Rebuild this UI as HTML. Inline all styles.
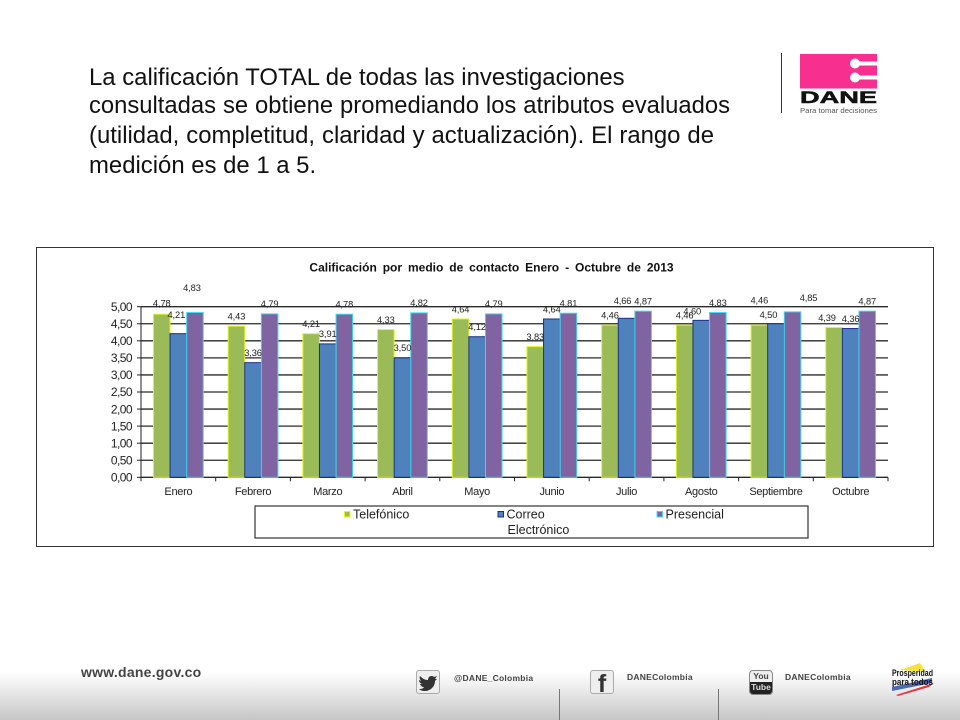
<!DOCTYPE html>
<html lang="es">
<head>
<meta charset="utf-8">
<title>Calificación por medio de contacto</title>
<style>
html,body{margin:0;padding:0;background:#fff}
#slide{position:relative;width:960px;height:720px;overflow:hidden;background:#fff;font-family:"Liberation Sans",Arial,sans-serif}
.line{position:absolute;left:89px;font-size:23.9px;line-height:28px;color:#111;white-space:nowrap}
.just{white-space:normal;text-align:justify;text-align-last:justify}
#footer-bg{position:absolute;left:0;top:672px;width:960px;height:48px;background:linear-gradient(#fff,#e9e9e9 40%,#c6c6c6)}
.abs{position:absolute}
.soc{position:absolute;font-size:8.5px;font-weight:bold;color:#444;white-space:nowrap;letter-spacing:.25px}
.ico{position:absolute;width:22px;height:22px;border:1px solid #aaa;border-radius:3px;background:#eee}
</style>
</head>
<body>
<div id="slide">
  <div id="footer-bg"></div>

  <div class="line" style="top:64px">La calificación TOTAL de todas las investigaciones</div>
  <div class="line just" style="top:92px;width:641px;font-size:23.8px">consultadas se obtiene promediando los atributos evaluados</div>
  <div class="line just" style="top:122px;width:625px">(utilidad, completitud, claridad y actualización). El rango de</div>
  <div class="line" style="top:152px">medición es de 1 a 5.</div>

  <div class="abs" style="left:781px;top:53px;width:1px;height:60px;background:#333"></div>
  <svg class="abs" style="left:798px;top:52px" width="82" height="64" viewBox="0 0 82 64">
    <rect x="2" y="2" width="77" height="34.500" fill="#f7308f"/>
    <rect x="57" y="9.500" width="22" height="4" fill="#fff"/>
    <rect x="57" y="23.500" width="22" height="4" fill="#fff"/>
    <circle cx="57" cy="11.500" r="5" fill="#fff"/>
    <circle cx="57" cy="25.500" r="5" fill="#fff"/>
    <text x="40.500" y="51" text-anchor="middle" font-family="Liberation Sans" font-weight="bold" font-size="17" textLength="77" lengthAdjust="spacingAndGlyphs" fill="#111" stroke="#111" stroke-width=".5">DANE</text>
    <text x="2" y="61" font-family="Liberation Sans" font-size="7.400" fill="#555" textLength="77" lengthAdjust="spacingAndGlyphs">Para tomar decisiones</text>
  </svg>

  <div class="abs" style="left:36px;top:247px;width:896px;height:298px;border:1px solid #333;box-sizing:content-box"></div>
  <svg id="chart" class="abs" style="left:0;top:0" width="960" height="720"></svg>

  <div class="abs" style="left:81px;top:664px;font-size:14px;font-weight:bold;color:#444;letter-spacing:.25px">www.dane.gov.co</div>

  <div class="ico" style="left:416px;top:670px">
    <svg width="22" height="22" viewBox="0 0 22 22"><path d="M3 5c3 3 5 4 8 4 0-4 4-5 6-3l3-1-2 3 2 0-2 2c0 6-5 10-10 10-3 0-5-1-6-2 2 0 4 0 5-2-2 0-3-1-4-3h2c-2-1-3-2-3-4l2 1C3 8 2 7 3 5z" fill="#333"/></svg>
  </div>
  <div class="soc" style="left:454px;top:673px">@DANE_Colombia</div>

  <div class="ico" style="left:590px;top:670px;font-size:25px;font-weight:bold;line-height:27px;text-align:center;color:#333;overflow:hidden">f</div>
  <div class="soc" style="left:627px;top:672px">DANEColombia</div>

  <div class="abs" style="left:749px;top:670px;width:22px;height:23px;border-radius:4px;overflow:hidden;border:1px solid #888;background:#eee;text-align:center;font-weight:bold;font-size:8.500px;line-height:11px"><div style="color:#444;height:11px">You</div><div style="background:#222;color:#ddd;height:12px">Tube</div></div>
  <div class="soc" style="left:785px;top:672px">DANEColombia</div>

  <svg class="abs" style="left:888px;top:660px" width="50" height="38" viewBox="0 0 50 38">
    <path d="M12 10 32 3l6 9z" fill="#f5e23a"/>
    <path d="M4 27 44 18v5L4 31z" fill="#4a6ab8"/>
    <path d="M8 35 46 23l-5 4-31 9z" fill="#e8343c"/>
    <text x="4" y="16" font-family="Liberation Sans" font-weight="bold" font-size="9" fill="#111" textLength="41" lengthAdjust="spacingAndGlyphs">Prosperidad</text>
    <text x="4" y="25" font-family="Liberation Sans" font-weight="bold" font-size="9" fill="#111" textLength="41" lengthAdjust="spacingAndGlyphs">para todos</text>
  </svg>

  <div class="abs" style="left:559px;top:689px;width:1px;height:31px;background:#777"></div>
  <div class="abs" style="left:718px;top:689px;width:1px;height:31px;background:#777"></div>
</div>

<script>
const categories = ['Enero','Febrero','Marzo','Abril','Mayo','Junio','Julio','Agosto','Septiembre','Octubre'];
const telefonico = [4.78,4.43,4.21,4.33,4.64,3.83,4.46,4.46,4.46,4.39];
const correo = [4.21,3.36,3.91,3.50,4.12,4.64,4.66,4.60,4.50,4.36];
const presencial = [4.83,4.79,4.78,4.82,4.79,4.81,4.87,4.83,4.85,4.87];
const yTicks = [0,0.5,1,1.5,2,2.5,3,3.5,4,4.5,5];

const svg = document.getElementById('chart');
const NS = 'http://www.w3.org/2000/svg';
const plot = {left:141, right:888, top:306.7, bottom:477.3};
const yMax = 5;
const y = v => plot.bottom - (v / yMax) * (plot.bottom - plot.top);
const bandW = (plot.right - plot.left) / categories.length;
const band = i => plot.left + i * bandW;
const barW = bandW / 4.5;
const barX = (i, s) => band(i) + barW * 0.75 + s * barW;
const comma = v => v.toFixed(2).replace('.', ',');

const seriesList = [
  {key:'telefonico', name:'Telefónico', values:telefonico, fill:'#9bbb59', edge:'#e6f51a', legendX:344.5},
  {key:'correo', name:'Correo', values:correo, fill:'#4f81bd', edge:'#1c2f8a', legendX:498},
  {key:'presencial', name:'Presencial', values:presencial, fill:'#8064a2', edge:'#3fdcf0', legendX:657}
];
/* manual label-placement exceptions from the source chart (series:category -> extra dx, dy) */
const labelNudge = {'0:0':[0,-1],'1:0':[-2,-9],'2:0':[-3,-15],'1:6':[-4,-7.5],'1:7':[-9,1],'0:8':[0,-15],'1:8':[-7.5,1],'2:8':[16,-4],'0:9':[-7,0]};

function add(tag, attrs, text) {
  const el = document.createElementNS(NS, tag);
  for (const k in attrs) el.setAttribute(k, attrs[k]);
  if (text !== undefined) el.textContent = text;
  svg.appendChild(el);
  return el;
}
const FONT = '"Liberation Sans", Arial, sans-serif';

const title = add('text', {x:491.5, y:271.5, 'text-anchor':'middle', 'font-family':FONT, 'font-weight':'bold', 'font-size':12, fill:'#111', 'word-spacing':'2.6px'}, 'Calificación por medio de contacto Enero - Octubre de 2013');



yTicks.forEach(t => {
  const gridline = add('line', {x1:plot.left, x2:plot.right, y1:y(t), y2:y(t), stroke:'#2a2a2a', 'stroke-width':1.3});
  
  
  const tick = add('line', {x1:plot.left - 4, x2:plot.left, y1:y(t), y2:y(t), stroke:'#222', 'stroke-width':1});
  
  
  const label = add('text', {x:132, y:y(t) + 4.2, 'text-anchor':'end', 'font-family':FONT, 'font-size':12, 'letter-spacing':'-0.55', fill:'#222'}, comma(t));
  
  
});

const yAxis = add('line', {x1:plot.left, x2:plot.left, y1:plot.top, y2:plot.bottom, stroke:'#222', 'stroke-width':1});



for (let i = 0; i <= categories.length; i++) {
  const tick = add('line', {x1:band(i), x2:band(i), y1:plot.bottom, y2:plot.bottom + 4, stroke:'#222', 'stroke-width':1});
  
  
}

categories.forEach((c, i) => {
  const label = add('text', {x:band(i) + bandW / 2, y:495, 'text-anchor':'middle', 'font-family':FONT, 'font-size':11, 'letter-spacing':'-0.3', fill:'#222'}, c);
  
  
});

seriesList.forEach((s, si) => {
  s.values.forEach((v, i) => {
    const bar = add('rect', {x:barX(i, si), y:y(v), width:barW, height:plot.bottom - y(v), fill:s.fill, stroke:s.edge, 'stroke-width':1});
    
    
  });
});

seriesList.forEach((s, si) => {
  s.values.forEach((v, i) => {
    const n = labelNudge[si + ':' + i] || [0, 0];
    const label = add('text', {x:barX(i, si) + barW / 2 + n[0], y:y(v) - 6.7 + n[1], 'text-anchor':'middle', 'font-family':FONT, 'font-size':9.3, 'letter-spacing':'-0.1', fill:'#222'}, comma(v));
    
    
  });
});

const legendBox = add('rect', {x:255, y:506, width:553, height:32, fill:'#fff', stroke:'#333', 'stroke-width':1.2});



seriesList.forEach(s => {
  const swatch = add('rect', {x:s.legendX, y:511.5, width:5.5, height:5.5, fill:s.fill, stroke:s.edge, 'stroke-width':1});
  
  
  const text = add('text', {x:s.legendX + 8.5, y:518.5, 'font-family':FONT, 'font-size':12.5, fill:'#222'}, s.name);
  
  
});
const legendExtra = add('text', {x:507.5, y:534, 'font-family':FONT, 'font-size':12.5, fill:'#222'}, 'Electrónico');


</script>
</body>
</html>
